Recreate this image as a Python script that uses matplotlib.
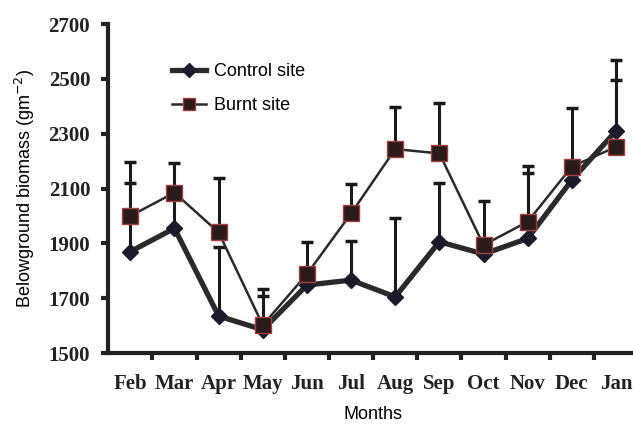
import numpy as np
import matplotlib.pyplot as plt

months = ['Feb', 'Mar', 'Apr', 'May', 'Jun', 'Jul', 'Aug', 'Sep', 'Oct', 'Nov', 'Dec', 'Jan']
control = [1870, 1955, 1635, 1585, 1748, 1766, 1705, 1906, 1861, 1918, 2131, 2310]
control_err = [249, 140, 250, 124, 40, 144, 286, 216, 193, 237, 40, 259]
burnt = [2000, 2085, 1940, 1602, 1788, 2009, 2244, 2228, 1894, 1979, 2180, 2252]
burnt_err = [195, 107, 199, 130, 116, 106, 154, 185, 10, 203, 212, 244]
yticks = [1500, 1700, 1900, 2100, 2300, 2500, 2700]

fig = plt.figure(figsize=(6.33, 4.29), dpi=100)
ax = fig.add_axes([0.171, 0.177, 0.837, 0.767])
x = np.arange(len(months))

ax.errorbar(x, control, yerr=[np.zeros(len(x)), control_err], fmt='none',
            ecolor='#1a1a1a', elinewidth=2.2, capsize=4, capthick=2.5, zorder=2)
ax.errorbar(x, burnt, yerr=[np.zeros(len(x)), burnt_err], fmt='none',
            ecolor='#1a1a1a', elinewidth=2.2, capsize=4, capthick=2.5, zorder=2)
ax.plot(x, control, color='#2a2a2a', lw=3.8, marker='D', ms=8,
        mfc='#1a1a2a', mec='#1a1a2a', label='Control site', zorder=3)
ax.plot(x, burnt, color='#2a2a2a', lw=1.8, marker='s', ms=11,
        mfc='#2a1a1a', mec='#a04040', mew=1.0, label='Burnt site', zorder=4)

ax.set_xlim(-0.5, 11.5)
ax.set_ylim(1500, 2700)
ax.set_yticks(yticks)
ax.set_yticklabels([str(v) for v in yticks], family='Liberation Serif',
                   fontweight='bold', fontsize=15, color='#222222')
ax.set_xticks(x + 0.5)
ax.set_xticklabels([])
ax.set_xticks(x, minor=True)
ax.set_xticklabels(months, minor=True, family='Liberation Serif',
                   fontweight='bold', fontsize=15, color='#222222')
ax.tick_params(axis='x', which='major', direction='out', length=5, width=3, color='#222222')
ax.tick_params(axis='x', which='minor', length=0, pad=15)
ax.tick_params(axis='y', direction='out', length=5, width=3, color='#222222', pad=8)

for s in ['top', 'right']:
    ax.spines[s].set_visible(False)
for s in ['left', 'bottom']:
    ax.spines[s].set_linewidth(3)
    ax.spines[s].set_color('#222222')

ax.set_ylabel('Belowground biomass (gm$^{-2}$)', family='Liberation Sans',
              fontsize=13, labelpad=8)
ax.set_xlabel('Months', family='Liberation Sans', fontsize=13, labelpad=9)

ax.legend(loc='upper left', bbox_to_anchor=(0.09, 0.93), frameon=False,
          prop={'family': 'Liberation Sans', 'size': 13}, handlelength=1.9,
          labelspacing=0.95, handletextpad=0.4, markerscale=0.85)

fig.savefig('out.png', dpi=100)
